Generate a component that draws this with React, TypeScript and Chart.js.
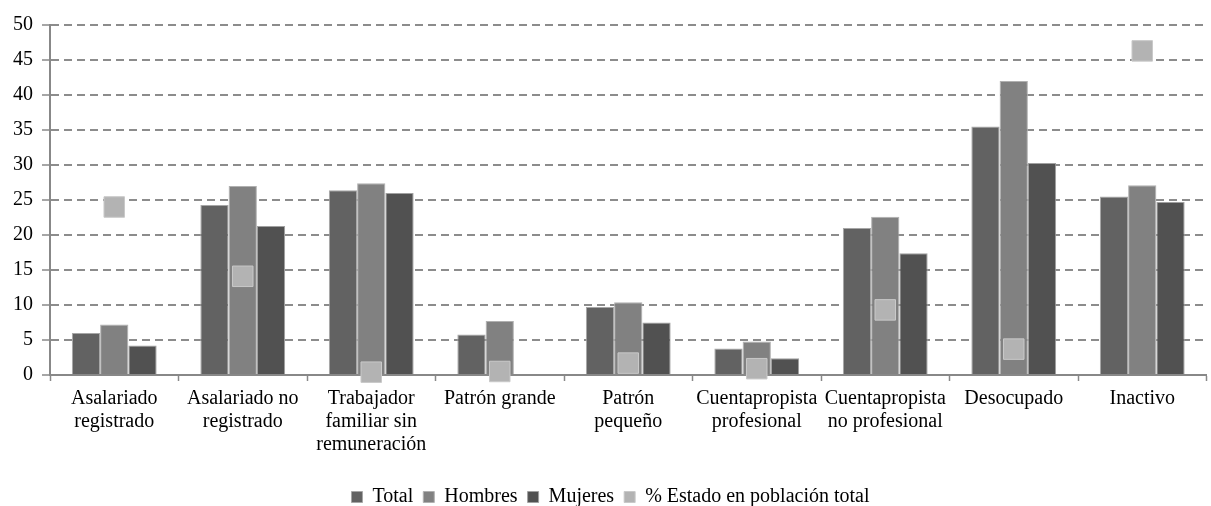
import React, { useEffect, useRef } from "react";
import { Chart, registerables } from "chart.js";

Chart.register(...registerables);

const categories: (string | string[])[] = [
  ["Asalariado", "registrado"],
  ["Asalariado no", "registrado"],
  ["Trabajador", "familiar sin", "remuneración"],
  "Patrón grande",
  ["Patrón", "pequeño"],
  ["Cuentapropista", "profesional"],
  ["Cuentapropista", "no profesional"],
  "Desocupado",
  "Inactivo",
];

const totalValues = [6.0, 24.3, 26.4, 5.8, 9.7, 3.8, 21.0, 35.5, 25.5];
const hombresValues = [7.2, 27.0, 27.4, 7.7, 10.4, 4.8, 22.6, 42.0, 27.1];
const mujeresValues = [4.2, 21.3, 26.0, 0, 7.5, 2.4, 17.4, 30.3, 24.7];
const estadoValues = [24.0, 14.1, 0.4, 0.5, 1.7, 0.9, 9.3, 3.7, 46.3];

const yTicks = [0, 5, 10, 15, 20, 25, 30, 35, 40, 45, 50];

const FONT = "Liberation Serif";
Chart.defaults.font.family = FONT;

export default function App() {
  const ref = useRef<HTMLCanvasElement | null>(null);

  useEffect(() => {
    if (!ref.current) return;
    const chart = new Chart(ref.current, {
      type: "bar",
      data: {
        labels: categories,
        datasets: [
          {
            label: "Total",
            data: totalValues,
            backgroundColor: "#626262",
            borderColor: "#a6a6a6",
            borderWidth: 1,
            order: 1,
          },
          {
            label: "Hombres",
            data: hombresValues,
            backgroundColor: "#818181",
            borderColor: "#b0b0b0",
            borderWidth: 1,
            order: 1,
          },
          {
            label: "Mujeres",
            data: mujeresValues,
            backgroundColor: "#515151",
            borderColor: "#a0a0a0",
            borderWidth: 1,
            order: 1,
          },
          {
            type: "line",
            label: "% Estado en población total",
            data: estadoValues,
            showLine: false,
            clip: false,
            backgroundColor: "#b3b3b3",
            borderColor: "#c9c9c9",
            borderWidth: 1,
            pointStyle: "rect",
            pointRadius: 14.5,
            pointHoverRadius: 14.5,
            pointBackgroundColor: "#b3b3b3",
            pointBorderColor: "#c9c9c9",
            pointBorderWidth: 1,
            order: 0,
          } as any,
        ],
      },
      options: {
        animation: false,
        responsive: false,
        maintainAspectRatio: false,
        layout: { padding: { top: 25, right: 1, left: 0, bottom: 0 } },
        datasets: {
          bar: { barPercentage: 1.0, categoryPercentage: 0.66 },
        },
        plugins: {
          tooltip: { enabled: false },
          legend: {
            position: "bottom",
            labels: {
              font: { family: FONT, size: 20 },
              color: "#000000",
              boxWidth: 11,
              boxHeight: 11,
              padding: 10,
              sort: (a: any, b: any) => a.datasetIndex - b.datasetIndex,
            },
          },
        },
        scales: {
          x: {
            offset: true,
            grid: {
              offset: true,
              drawOnChartArea: false,
              drawTicks: true,
              tickLength: 6,
              tickColor: "#888888",
              tickWidth: 1.5,
            },
            border: { color: "#888888", width: 2 },
            ticks: {
              font: { family: FONT, size: 20, lineHeight: 1.15 },
              color: "#000000",
              padding: 6,
              maxRotation: 0,
              autoSkip: false,
            },
            afterFit: (scale: any) => {
              scale.height = 102;
            },
          },
          y: {
            min: 0,
            max: 50,
            afterBuildTicks: (scale: any) => {
              scale.ticks = yTicks.map((v) => ({ value: v }));
            },
            grid: {
              color: "#8c8c8c",
              lineWidth: 2,
              tickBorderDash: [],
              tickLength: 8,
              tickColor: "#888888",
              tickWidth: 1.5,
            },
            border: { color: "#888888", width: 2, dash: [8, 5] },
            ticks: {
              font: { family: FONT, size: 20 },
              color: "#000000",
              padding: 9,
            },
            afterFit: (scale: any) => {
              scale.width = 50;
            },
          },
        },
      },
    });
    return () => chart.destroy();
  }, []);

  return (
    <div
      style={{
        position: "absolute",
        left: 0,
        top: 0,
        width: 1211,
        height: 506,
        overflow: "hidden",
        background: "#ffffff",
      }}
    >
      <canvas ref={ref} width={1222} height={517} style={{ display: "block" }} />
    </div>
  );
}
